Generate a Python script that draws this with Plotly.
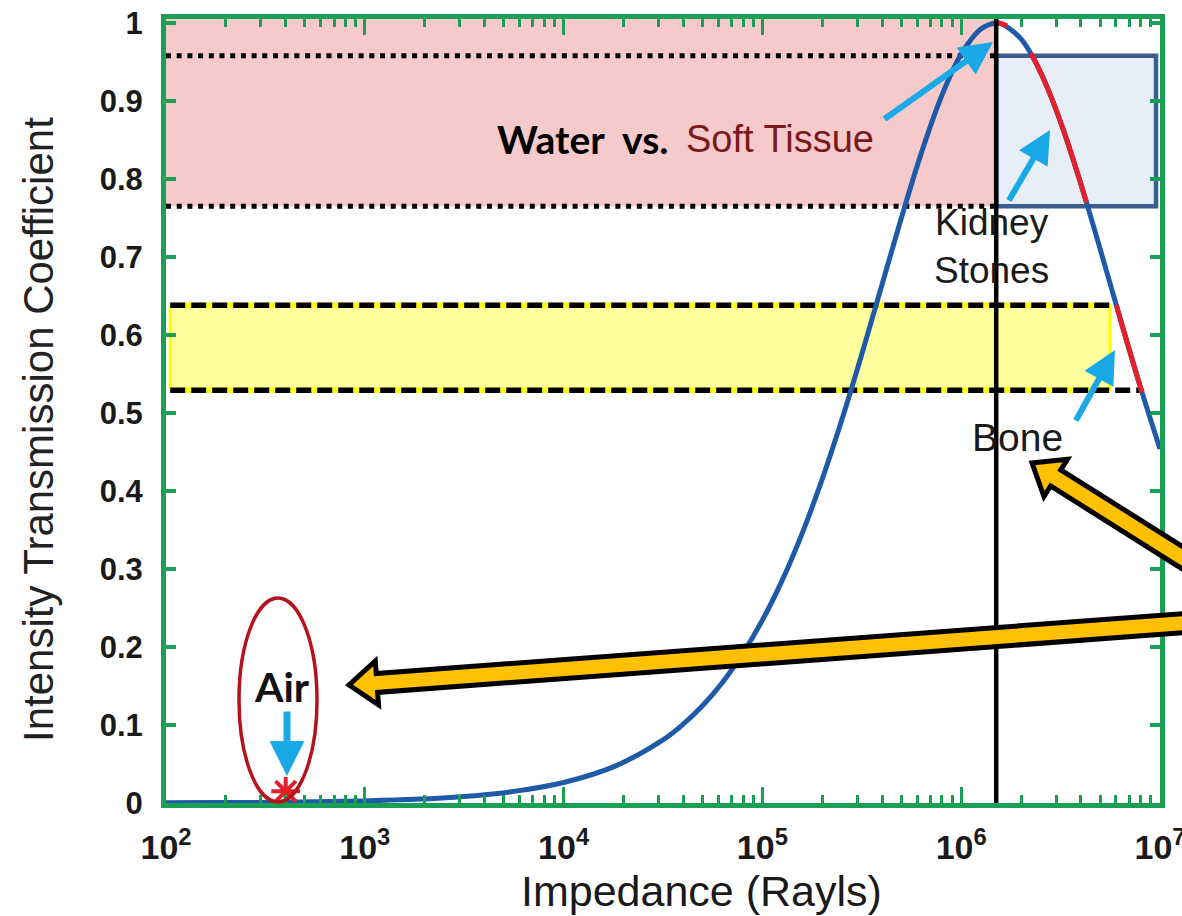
import plotly.graph_objects as go

# Intensity transmission coefficient against water (Z = 1.5 MRayl)
impedance = [1.0e2, 1.78e2, 3.16e2, 5.62e2, 1.0e3, 1.78e3, 3.16e3, 5.62e3,
             1.0e4, 1.78e4, 3.16e4, 3.98e4, 5.01e4, 6.31e4, 7.94e4,
             1.0e5, 1.259e5, 1.585e5, 1.995e5, 2.512e5, 3.162e5, 3.981e5,
             5.012e5, 6.310e5, 7.943e5, 1.0e6, 1.259e6, 1.5e6, 1.585e6,
             1.995e6, 2.512e6, 3.162e6, 3.981e6, 5.012e6, 6.310e6, 7.943e6, 1.0e7]
transmission = [0.0003, 0.0005, 0.0008, 0.0015, 0.0027, 0.0047, 0.0084, 0.0149,
                0.0263, 0.0463, 0.0809, 0.1007, 0.1251, 0.1549, 0.1911,
                0.2344, 0.2857, 0.3457, 0.4145, 0.4915, 0.5752, 0.6630,
                0.7509, 0.8337, 0.9054, 0.9600, 0.9924, 1.0000, 0.9992,
                0.9799, 0.9364, 0.8729, 0.7951, 0.7092, 0.6207, 0.5344, 0.4537]

# highlighted tissue ranges on the curve
soft_z = [1.5e6, 1.585e6, 1.698e6]
soft_t = [1.0, 0.9992, 0.9962]
kidney_z = [2.239e6, 2.399e6, 2.818e6, 3.311e6, 3.802e6, 4.266e6]
kidney_t = [0.961, 0.9469, 0.9068, 0.8583, 0.8115, 0.7699]
bone_z = [6.026e6, 6.166e6, 6.761e6, 7.586e6, 8.128e6]
bone_t = [0.6384, 0.6295, 0.5944, 0.5513, 0.5261]

air_z = [400]
air_t = [0.015]

water_z = 1.5e6
soft_band = (0.765, 0.958)
bone_band = (0.529, 0.638)
kidney_box_x = (1.5e6, 9.55e6)
bone_band_x = (105, 5.6e6)
bone_line_end = 7.9e6

x_tickvals = [1e2, 1e3, 1e4, 1e5, 1e6, 1e7]
x_ticktext = ["10<sup>2</sup>", "10<sup>3</sup>", "10<sup>4</sup>",
              "10<sup>5</sup>", "10<sup>6</sup>", "10<sup>7</sup>"]
x_minor = [m * 10 ** e for e in range(2, 7) for m in range(2, 10)]
y_tickvals = [0, 0.1, 0.2, 0.3, 0.4, 0.5, 0.6, 0.7, 0.8, 0.9, 1]
y_ticktext = ["0", "0.1", "0.2", "0.3", "0.4", "0.5", "0.6", "0.7", "0.8", "0.9", "1"]
x_title = "Impedance (Rayls)"
y_title = "Intensity Transmission Coefficient"

GREEN = "#1a9f55"
BLUE = "#1f5aa8"
RED = "#e3202c"
CYAN = "#19a9e6"
ORANGE = "#ffc000"
SANS = "Liberation Sans, Arial, sans-serif"

W, H = 1182, 916
ML, MR, MT, MB = 166, 22, 19, 113
PW, PH = W - ML - MR, H - MT - MB


def px(xp):
    return (xp - ML) / PW


def py(yp):
    return (H - MB - yp) / PH


fig = go.Figure()

# shaded reference bands
fig.add_trace(go.Scatter(
    x=[100, water_z, water_z, 100, 100],
    y=[soft_band[0], soft_band[0], 1.005, 1.005, soft_band[0]],
    fill="toself", fillcolor="#f6caca", line=dict(width=0),
    mode="lines", hoverinfo="skip", showlegend=False))
fig.add_trace(go.Scatter(
    x=[bone_band_x[0], bone_band_x[1], bone_band_x[1], bone_band_x[0], bone_band_x[0]],
    y=[bone_band[0], bone_band[0], bone_band[1], bone_band[1], bone_band[0]],
    fill="toself", fillcolor="#ffff9e", line=dict(width=3, color="#ffff00"),
    mode="lines", hoverinfo="skip", showlegend=False))
fig.add_trace(go.Scatter(
    x=[kidney_box_x[0], kidney_box_x[1], kidney_box_x[1], kidney_box_x[0], kidney_box_x[0]],
    y=[soft_band[1], soft_band[1], soft_band[0], soft_band[0], soft_band[1]],
    fill="toself", fillcolor="#e8eef8", line=dict(width=4.5, color="#3d5d8c"),
    mode="lines", hoverinfo="skip", showlegend=False))

# dotted soft tissue limits
for yv in soft_band:
    fig.add_trace(go.Scatter(x=[100, water_z], y=[yv, yv], mode="lines",
                             line=dict(color="black", width=5, dash="5px,5.7px"),
                             hoverinfo="skip", showlegend=False))

# dashed bone limits
for yv, xend in ((bone_band[1], bone_band_x[1]), (bone_band[0], bone_line_end)):
    fig.add_trace(go.Scatter(x=[bone_band_x[0], bone_band_x[1]], y=[yv, yv], mode="lines",
                             line=dict(color="#ffff00", width=5.5),
                             hoverinfo="skip", showlegend=False))
    fig.add_trace(go.Scatter(x=[bone_band_x[0], xend], y=[yv, yv], mode="lines",
                             line=dict(color="black", width=5.5, dash="15px,6px"),
                             hoverinfo="skip", showlegend=False))

# transmission curve
fig.add_trace(go.Scatter(x=impedance, y=transmission, mode="lines",
                         line=dict(color=BLUE, width=5, shape="spline"),
                         showlegend=False))
for zs, ts in ((soft_z, soft_t), (kidney_z, kidney_t), (bone_z, bone_t)):
    fig.add_trace(go.Scatter(x=zs, y=ts, mode="lines",
                             line=dict(color=RED, width=5, shape="spline"),
                             showlegend=False))

# water impedance marker line
fig.add_trace(go.Scatter(x=[water_z, water_z], y=[0, 1.005], mode="lines",
                         line=dict(color="black", width=4.5),
                         hoverinfo="skip", showlegend=False))

# air point
fig.add_trace(go.Scatter(x=air_z, y=air_t, mode="markers", cliponaxis=False,
                         marker=dict(symbol="asterisk-open", size=24, color=RED,
                                     line=dict(color=RED, width=4)),
                         showlegend=False))


def fat_arrow(tail, tip, half_w=9.5, head_hw=22, head_len=28):
    tx, ty = tail
    hx, hy = tip
    dx, dy = hx - tx, hy - ty
    length = (dx * dx + dy * dy) ** 0.5
    ux, uy = dx / length, dy / length
    nx, ny = -uy, ux
    bx, by = hx - ux * head_len, hy - uy * head_len
    pts = [(tx + nx * half_w, ty + ny * half_w), (bx + nx * half_w, by + ny * half_w),
           (bx + nx * head_hw, by + ny * head_hw), (hx, hy),
           (bx - nx * head_hw, by - ny * head_hw), (bx - nx * half_w, by - ny * half_w),
           (tx - nx * half_w, ty - ny * half_w)]
    path = "M " + " L ".join(f"{px(a):.5f},{py(b):.5f}" for a, b in pts) + " Z"
    return dict(type="path", path=path, xref="paper", yref="paper",
                fillcolor=ORANGE, line=dict(color="black", width=5), layer="above")


shapes = [
    fat_arrow((1240, 594), (1032, 463)),
    fat_arrow((1240, 619), (349, 685)),
    dict(type="circle", xref="paper", yref="paper",
         x0=px(239), x1=px(317), y0=py(802), y1=py(598),
         line=dict(color="#b3141c", width=3.5), layer="above"),
]

annotations = []


def cyan_arrow(tail, tip, width=6, size=1.1):
    annotations.append(dict(
        x=px(tip[0]), y=py(tip[1]), xref="paper", yref="paper",
        ax=tail[0] - tip[0], ay=tail[1] - tip[1], text="", showarrow=True,
        arrowhead=2, arrowsize=size, arrowwidth=width, arrowcolor=CYAN, standoff=0))


cyan_arrow((883, 120), (993, 42))
cyan_arrow((1008, 202), (1050, 130))
cyan_arrow((1075, 422), (1115, 350))
cyan_arrow((287, 710), (287, 776), width=7, size=1.0)


def label(text, x, y, size, family=SANS, color="#1a1a1a", xanchor="center", angle=0):
    annotations.append(dict(
        x=px(x), y=py(y), xref="paper", yref="paper", text=text, showarrow=False,
        xanchor=xanchor, yanchor="middle", textangle=angle,
        font=dict(family=family, size=size, color=color)))


label("<b>Water  vs.</b>", 671, 139, 39, family="Lato, sans-serif", color="black", xanchor="right")
label("Soft Tissue", 684, 139, 38, color="#7a1a1f", xanchor="left")
label("Kidney<br>Stones", 991, 246, 37)
label("Bone", 1017, 437, 39)
label("<b>Air</b>", 282, 686, 41, family="Lato, sans-serif", color="#111")

# axis titles
label(x_title, 701, 891, 43)
label(y_title, 38, 430, 42, color="#222", angle=-90)

fig.update_layout(
    width=W, height=H,
    margin=dict(l=ML, r=MR, t=MT, b=MB, autoexpand=False),
    paper_bgcolor="white", plot_bgcolor="white",
    shapes=shapes, annotations=annotations,
    xaxis=dict(
        type="log", range=[2, 7], showgrid=False, zeroline=False, automargin=False,
        showline=True, linecolor=GREEN, linewidth=5, mirror="ticks",
        tickmode="array", tickvals=x_tickvals, ticktext=x_ticktext,
        ticks="inside", ticklen=16, tickwidth=3, tickcolor=GREEN,
        minor=dict(tickmode="array", tickvals=x_minor, ticks="inside",
                   ticklen=8, tickwidth=3, tickcolor=GREEN),
        tickfont=dict(family=SANS, size=34, color="#1a1a1a", weight="bold"),
        ticklabelstandoff=10, ticklabeloverflow="allow",
    ),
    yaxis=dict(
        range=[0, 1.005], showgrid=False, zeroline=False, automargin=False,
        showline=True, linecolor=GREEN, linewidth=5, mirror="ticks",
        tickmode="array", tickvals=y_tickvals, ticktext=y_ticktext,
        ticks="inside", ticklen=10, tickwidth=4, tickcolor=GREEN,
        tickfont=dict(family=SANS, size=31, color="#1a1a1a", weight="bold"),
        ticklabelstandoff=12,
    ),
)

fig.write_html("out.html")
